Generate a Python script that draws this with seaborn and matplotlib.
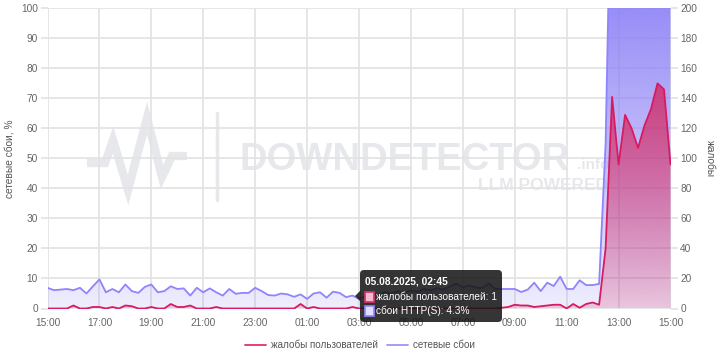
import numpy as np
import pandas as pd
import matplotlib
matplotlib.use("Agg")
import matplotlib.pyplot as plt
import seaborn as sns
from matplotlib.patches import FancyBboxPatch, Rectangle, Polygon
from matplotlib.lines import Line2D
from matplotlib.colors import to_rgb

# ---------------- data ----------------
start_time = "2025-08-04 15:00"
step_minutes = 15
tick_labels = ["15:00", "17:00", "19:00", "21:00", "23:00", "01:00", "03:00",
               "05:00", "07:00", "09:00", "11:00", "13:00", "15:00"]
tick_hours = [0, 2, 4, 6, 8, 10, 12, 14, 16, 18, 20, 22, 24]

# network failures, % (left axis)
network_pct = [6.9, 6.1, 6.3, 6.5, 6.1, 6.9, 5.0, 7.4, 9.7, 5.4, 6.5, 5.4, 8.0, 5.8, 5.2, 7.2,
               8.0, 5.4, 5.8, 7.4, 6.5, 6.7, 4.3, 6.9, 5.4, 6.7, 5.4, 4.3, 6.5, 4.9, 5.2, 5.2,
               6.9, 5.8, 4.5, 4.3, 5.0, 4.7, 3.9, 4.7, 3.2, 5.0, 5.4, 3.6, 5.6, 5.2, 3.8, 4.3,
               3.2, 4.1, 5.0, 4.5, 5.5, 5.0, 5.8, 5.2, 6.0, 5.5, 6.5, 6.0, 6.8, 6.3, 7.3, 8.3,
               7.0, 7.7, 7.0, 6.8, 8.3, 6.5, 6.5, 6.5, 6.5, 5.5, 6.3, 8.6, 5.8, 8.6, 7.5, 10.6,
               6.5, 6.5, 9.4, 7.8, 7.8, 8.2, 55, 165, 170, 170, 170, 170, 170, 170, 170, 170, 170]

# user complaints (right axis)
complaints = [0, 0, 0, 0, 2, 0, 0, 1, 1, 0, 1, 0, 2, 1.5, 0, 0,
              1, 0, 0, 3, 1, 1, 2, 0, 0, 0, 1, 0, 0, 0, 0, 0,
              0, 0, 0, 0, 0, 0, 0, 3, 0, 1, 0, 0, 0, 0, 0, 1,
              0, 0, 0, 0, 0, 0, 0, 0, 0, 0, 0, 0, 0, 0, 0, 0,
              0, 0, 0, 0, 0, 0, 0.5, 1, 2.5, 2, 2, 1, 1.5, 2, 2.5, 2.5,
              0, 3, 0.5, 3, 4, 2.5, 40, 141, 96, 129, 120, 107, 122, 133, 150, 146, 96]

tooltip_index = 47  # 05.08.2025, 02:45

times = pd.date_range(start_time, periods=len(network_pct), freq=f"{step_minutes}min")
hours = (times - times[0]).total_seconds() / 3600.0
df = pd.DataFrame({"hours": hours, "network": network_pct, "complaints": complaints})

# ---------------- style ----------------
sns.set_theme(style="white")
plt.rcParams['font.family'] = ['Liberation Sans', 'DejaVu Sans']

BLUE = "#8f85fa"
RED = "#d81b60"
GRID = "#e2e2e2"
TICK_TXT = "#666666"
LABEL_TXT = "#555555"
WM = "#e7e8eb"

W, H = 720, 360
fig = plt.figure(figsize=(7.2, 3.6), dpi=100)
fig.patch.set_facecolor("white")

# background (watermark) layer in pixel coordinates
bg = fig.add_axes([0, 0, 1, 1], zorder=0)
bg.set_xlim(0, W); bg.set_ylim(H, 0); bg.axis("off")
bg.add_line(Line2D([87, 105, 113, 128, 147, 162, 172, 187],
                   [163, 163, 140, 190, 118, 177, 156, 156],
                   color=WM, lw=6, solid_joinstyle="miter", solid_capstyle="butt"))
bg.add_line(Line2D([217, 217], [113, 200], color=WM, lw=2.5))
bg.text(240, 160, "DOWNDETECTOR", fontsize=27.5, fontweight="bold", color=WM,
        ha="left", va="center")
bg.text(577, 165, ".info", fontsize=11, fontweight="bold", color=WM, ha="left", va="center")
bg.text(478, 186, "LLM POWERED", fontsize=12.5, fontweight="bold", color=WM,
        ha="left", va="center")

# main axes
L, R, T, B = 47.5, 670.5, 8.3, 308.5
ax = fig.add_axes([L / W, 1 - B / H, (R - L) / W, (B - T) / H], zorder=1)
ax.patch.set_alpha(0)
ax2 = ax.twinx()
ax2.patch.set_alpha(0)

ax.set_xlim(0, 24)
ax.set_ylim(0, 100)
ax2.set_ylim(0, 200)


def gradient_fill(axis, x, y, color, a_bot, a_top, zorder):
    coll = axis.fill_between(x, y, 0, facecolor="none", edgecolor="none", lw=0)
    xl, yl = axis.get_xlim(), axis.get_ylim()
    n = 256
    rgba = np.zeros((n, 1, 4))
    rgba[..., :3] = to_rgb(color)
    rgba[:, 0, 3] = np.linspace(a_bot, a_top, n)
    im = axis.imshow(rgba, aspect="auto", origin="lower",
                     extent=[xl[0], xl[1], yl[0], yl[1]], zorder=zorder, interpolation="bilinear")
    im.set_clip_path(coll.get_paths()[0], transform=axis.transData)
    axis.set_xlim(xl); axis.set_ylim(yl)


gradient_fill(ax, df["hours"], df["network"], "#8c80f6", 0.14, 0.9, 1)
sns.lineplot(data=df, x="hours", y="network", ax=ax, color=BLUE, lw=1.3, legend=False, zorder=3)
gradient_fill(ax2, df["hours"], df["complaints"], "#d4245f", 0.2, 1.0, 1)
sns.lineplot(data=df, x="hours", y="complaints", ax=ax2, color=RED, lw=1.3, legend=False, zorder=3)

ax.set_xlim(0, 24)
ax.set_ylim(0, 100)
ax2.set_ylim(0, 200)

ax.set_xticks(tick_hours)
ax.set_xticklabels(tick_labels)
ax.set_yticks(np.arange(0, 101, 10))
ax2.set_yticks(np.arange(0, 201, 20))
ax.grid(True, color=GRID, lw=1.2)
ax2.grid(False)
for a in (ax, ax2):
    for s in a.spines.values():
        s.set_visible(False)
    a.tick_params(length=5, width=1.2, color=GRID, labelcolor=TICK_TXT, labelsize=7.3, pad=2)
ax.set_xlabel("")
ax.set_ylabel("сетевые сбои, %", fontsize=7.3, color=LABEL_TXT)
ax.yaxis.set_label_coords((9.5 - L) / (R - L), 0.5)
ax.yaxis.label.set_va("center")
ax2.set_ylabel("жалобы", fontsize=7.3, color=LABEL_TXT, rotation=270)
ax2.yaxis.set_label_coords((710 - L) / (R - L), 0.5)
ax2.yaxis.label.set_va("center")

# legend
handles = [Line2D([], [], color="#e0306a", lw=1.3), Line2D([], [], color="#9d94fb", lw=1.3)]
leg = fig.legend(handles, ["жалобы пользователей", "сетевые сбои"], loc="center",
                 bbox_to_anchor=(0.5, 1 - 345 / H), ncol=2, frameon=False, fontsize=7.1,
                 handlelength=2.1, handletextpad=0.5, columnspacing=1.0)
for t in leg.get_texts():
    t.set_color(LABEL_TXT)

# tooltip overlay
ov = fig.add_axes([0, 0, 1, 1], zorder=10)
ov.set_xlim(0, W); ov.set_ylim(H, 0); ov.axis("off")
ov.patch.set_alpha(0)
ov.add_patch(FancyBboxPatch((360, 270), 142, 52, boxstyle="round,pad=0,rounding_size=4",
                            fc=(0.08, 0.08, 0.08, 0.86), ec="none"))
ov.add_patch(Polygon([(355, 296), (360.5, 290.5), (360.5, 301.5)], closed=True,
                     fc=(0.08, 0.08, 0.08, 0.86), ec="none"))
ts = times[tooltip_index]
ov.text(365, 281, ts.strftime("%d.%m.%Y, %H:%M"), color="white", fontsize=7.4,
        fontweight="bold", ha="left", va="center")
ov.add_patch(Rectangle((364.5, 292), 9, 10, fc="#f6b8cf", ec="#d6336c", lw=1.2))
ov.text(375.5, 297, f"жалобы пользователей: {complaints[tooltip_index]:g}", color="white",
        fontsize=7.3, ha="left", va="center")
ov.add_patch(Rectangle((364.5, 306), 9, 10, fc="#e3deff", ec="#8f86ff", lw=1.2))
ov.text(375.5, 311, f"сбои HTTP(S): {network_pct[tooltip_index]:.1f}%", color="white",
        fontsize=7.3, ha="left", va="center")

fig.savefig("out.png", dpi=100)
